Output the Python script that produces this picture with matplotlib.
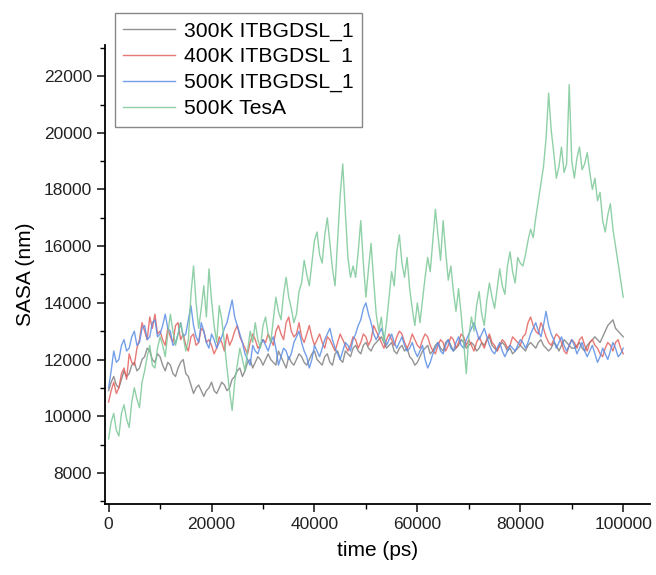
import matplotlib
matplotlib.use("Agg")
import matplotlib.pyplot as plt
from matplotlib.ticker import MultipleLocator
import numpy as np

plt.rcParams['font.family'] = ['Liberation Sans', 'DejaVu Sans']

time_ps = np.arange(0, 201) * 500

sasa_300k = [10900, 11200, 11400, 11100, 11000, 11300, 11600, 11400, 11500, 11800, 11900, 11600, 11700, 12000, 12100, 12400, 12300, 12000, 11900, 12200, 12100,
             11800, 11600, 11900, 11800, 11500, 11400, 11700, 11900, 12000, 11500, 11400, 11100, 10800, 11000, 11100, 10900, 10700, 10900, 11000, 11200,
             10900, 10800, 11000, 11200, 11100, 10900, 11000, 11300, 11400, 11600, 11700, 11400, 11600, 11900, 12000, 11700, 11900, 12100, 12000, 11800,
             12000, 12200, 12000, 11900, 11800, 12300, 12100, 11900, 11700, 12100, 11900, 11800, 12000, 12200, 12100, 11900, 11800, 12000, 12200, 12300,
             12000, 11900, 11800, 12100, 12200, 11900, 11800, 12200, 12300, 12000, 11900, 12300, 12200, 12100, 12400, 12500, 12300, 12200, 12500, 12600,
             12400, 12300, 12500, 12600, 12700, 12800, 12600, 12400, 12500, 12600, 12300, 12200, 12400, 12500, 12300, 12400, 12100, 12000, 11800, 11900,
             12100, 12300, 12400, 12500, 12200, 12300, 12500, 12600, 12400, 12300, 12600, 12700, 12500, 12300, 12400, 12500, 12700, 12600, 12400, 12500,
             12600, 12500, 12300, 12400, 12600, 12500, 12700, 12800, 12500, 12400, 12300, 12500, 12600, 12500, 12300, 12400, 12200, 12300, 12400, 12500,
             12400, 12300, 12500, 12600, 12500, 12400, 12600, 12700, 12500, 12400, 12300, 12400, 12600, 12500, 12300, 12500, 12700, 12600, 12500, 12400,
             12400, 12500, 12600, 12400, 12300, 12500, 12600, 12700, 12800, 12700, 12600, 12800, 13000, 13200, 13300, 13400, 13100, 13000, 12900, 12800]

sasa_400k = [10500, 10900, 11200, 10800, 11000, 11500, 11700, 11300, 12200, 11900, 11800, 12400, 12700, 13300, 13000, 12700, 13500, 13100, 13600, 12900, 13000,
             12700, 12500, 13100, 12800, 12600, 13200, 13300, 12700, 12900, 12500, 12300, 12800, 12900, 12500, 12600, 13100, 13000, 12600, 12700, 12500,
             12200, 12400, 12800, 12600, 12300, 12900, 12500, 12700, 13000, 13200, 12800, 12600, 12400, 12200, 12600, 12900, 12700, 12400, 12500, 12700,
             12600, 12900, 12700, 12500, 13000, 13200, 12900, 12700, 13300, 13500, 13000, 12800, 12900, 13300, 12800, 12600, 12900, 13200, 12800, 12500,
             12700, 12900, 12600, 12400, 12800, 12700, 12500, 12300, 12600, 12900, 12700, 12500, 12300, 12500, 12800, 12700, 12400, 12600, 12900, 12800,
             12500, 12700, 13200, 13000, 12800, 12600, 12400, 12700, 12900, 12700, 12500, 12800, 13000, 12900, 12600, 12400, 12600, 12900, 12700, 12500,
             12400, 12700, 12900, 12800, 12500, 12300, 12200, 12500, 12700, 12600, 12300, 12500, 12800, 12700, 12400, 12600, 12900, 12800, 12500, 12700,
             12500, 12300, 12600, 12800, 12600, 12400, 12700, 12900, 12600, 12500, 12300, 12500, 12700, 12600, 12400, 12500, 12800, 12700, 12600, 12500,
             12800, 12900, 13300, 13500, 13200, 13000, 12900, 13300, 13100, 12800, 12600, 12500, 12700, 12900, 12800, 12600, 12300, 12200, 12500, 12700,
             12600, 12400, 12700, 12800, 12500, 12300, 12600, 12700, 12500, 12400, 12200, 12100, 12400, 12600, 12500, 12300, 12600, 12700, 12400, 12200]

sasa_500k = [11000, 11600, 12300, 11900, 12000, 12500, 12700, 12300, 12400, 12800, 13000, 12500, 12600, 13100, 13200, 12700, 12800, 13300, 13400, 12800, 12900,
             13200, 13600, 13100, 13000, 12500, 12600, 12900, 13300, 12800, 12900, 13400, 13900, 13200, 12800, 12600, 13300, 13000, 12600, 12400, 12900,
             12700, 12400, 12600, 12800, 13100, 13300, 13700, 14100, 13500, 13200, 12900, 12600, 12200, 12000, 11800, 12500, 12300, 12200, 12500, 12700,
             12500, 12300, 12600, 12800, 12400, 11800, 12100, 12400, 12300, 12000, 12200, 12600, 12800, 13000, 12600, 12300, 12100, 11700, 12000, 12500,
             12300, 12100, 12400, 12700, 12900, 13100, 12700, 12400, 12200, 12000, 12300, 12600, 12500, 12300, 12700, 12900, 13200, 13400, 13800, 14000,
             13600, 13300, 12900, 12700, 12900, 13100, 12800, 12500, 12700, 12900, 12600, 12400, 12600, 12800, 12500, 12300, 12400, 12600, 12300, 12100,
             12300, 12500, 12000, 11700, 11900, 12200, 12400, 12600, 12300, 12200, 12500, 12700, 12400, 12300, 12600, 12800, 12500, 12400, 12700, 12900,
             13100, 13300, 13000, 12700, 12900, 13100, 12800, 12500, 12300, 12200, 12400, 12600, 12300, 12100, 12300, 12500, 12400, 12300, 12500, 12700,
             12600, 12400, 12600, 12900, 13100, 13300, 13000, 12800, 13200, 13700, 13200, 12900, 12700, 12400, 12600, 12800, 12500, 12300, 12500, 12700,
             12500, 12200, 12400, 12600, 12300, 12100, 12300, 12500, 12200, 11900, 12100, 12400, 12200, 12000, 12300, 12600, 12400, 12100, 12200, 12400]

sasa_tesa = [9200, 9800, 10100, 9500, 9300, 10100, 10400, 9900, 9600, 10500, 11000, 10600, 10300, 11200, 11600, 12100, 12500, 11800, 11700, 12400, 12800,
             12500, 12100, 12900, 13600, 13000, 12500, 12900, 13300, 12800, 12300, 12700, 14300, 15300, 14000, 13100, 13800, 14600, 13500, 15200, 14100,
             13200, 12600, 13900, 13400, 12600, 11700, 10900, 10200, 11200, 11800, 12400, 12000, 11600, 12300, 13000, 12600, 13300, 12700, 12400, 13200,
             13500, 12900, 12600, 13400, 14200, 13700, 13400, 14300, 14900, 14200, 13800, 13300, 13600, 14400, 14700, 15500, 15000, 14600, 15400, 16200,
             16500, 15700, 15400, 16400, 17000, 16100, 15200, 14600, 16200, 17800, 18900, 17200, 15600, 14900, 15300, 14900, 15800, 16900, 15400, 14200,
             15200, 16100, 14800, 13600, 13000, 13500, 12600, 13300, 14200, 15100, 14600, 15800, 16400, 15400, 14900, 15600, 14500, 13800, 13200, 14000,
             13300, 14100, 14900, 15600, 15100, 16200, 17300, 16400, 15500, 16900, 15800, 14800, 15300, 14400, 13700, 14500, 13600, 12600, 11500, 12800,
             13500, 13000, 13900, 14400, 13600, 13200, 14100, 14700, 14200, 13800, 14500, 15200, 14600, 14300, 15300, 15800, 15100, 14700, 15600, 15400,
             15300, 15700, 16200, 16600, 16300, 17000, 17600, 18200, 18800, 19800, 21400, 20100, 19300, 18400, 18800, 19500, 18600, 18900, 21700, 19000,
             18400, 19100, 19500, 18700, 18900, 19300, 18600, 18000, 18400, 17600, 17900, 16900, 16500, 17100, 17500, 16600, 16000, 15400, 14800, 14200]

labels = ["300K ITBGDSL_1", "400K ITBGDSL  1", "500K ITBGDSL_1", "500K TesA"]
colors = ["#808080", "#e2625e", "#5b8ee6", "#7cc898"]
series = [sasa_300k, sasa_400k, sasa_500k, sasa_tesa]

fig = plt.figure(figsize=(6.56, 5.75), dpi=100)
ax = fig.add_axes([105/656, 1-504/575, (650-105)/656, (504-45)/575])

for y, c, lab in zip(series, colors, labels):
    ax.plot(time_ps, y, color=c, lw=1.0, alpha=0.85, label=lab)

ax.set_xlim(-700, 105200)
ax.set_ylim(6900, 23100)
ax.xaxis.set_minor_locator(MultipleLocator(10000))
ax.yaxis.set_minor_locator(MultipleLocator(1000))
ax.set_yticks(np.arange(8000, 22001, 2000))
ax.set_xticks(np.arange(0, 100001, 20000))

for s in ['top', 'right']:
    ax.spines[s].set_visible(False)
for s in ['left', 'bottom']:
    ax.spines[s].set_linewidth(1.3)
ax.tick_params(which='major', direction='out', length=6, width=1.2, labelsize=12.5, colors='#222222')
ax.tick_params(which='minor', direction='out', length=3.5, width=1.0)

ax.set_xlabel("time (ps)", fontsize=15, labelpad=6)
ax.set_ylabel("SASA (nm)", fontsize=15, labelpad=6)

leg = fig.legend(loc='upper left', bbox_to_anchor=(115/656, 1-13/575),
                 bbox_transform=fig.transFigure, borderaxespad=0,
                 fontsize=15.2, handlelength=2.45, handletextpad=0.4,
                 labelspacing=0.32, fancybox=False, framealpha=1,
                 edgecolor='#888888', borderpad=0.4)
for h in leg.get_lines():
    h.set_linewidth(1.0)

fig.savefig("out.png", dpi=100)
